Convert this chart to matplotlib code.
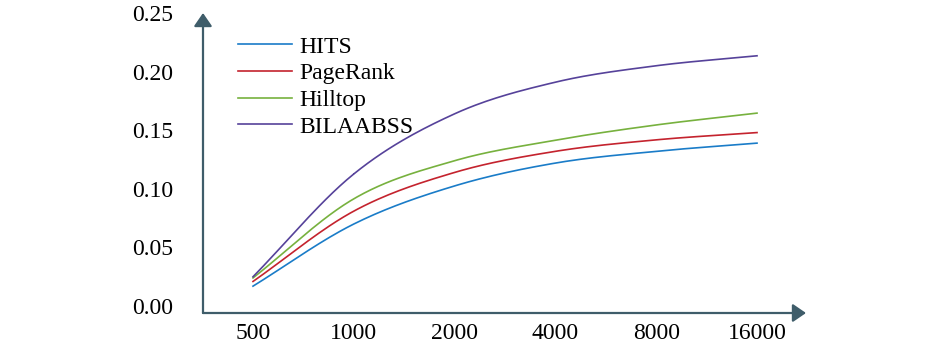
import numpy as np
import matplotlib.pyplot as plt

# datos
categorias = ['500', '1000', '2000', '4000', '8000', '16000']
hits = [0.017, 0.070, 0.1025, 0.122, 0.132, 0.139]
pagerank = [0.021, 0.081, 0.114, 0.132, 0.1418, 0.148]
hilltop = [0.024, 0.0915, 0.124, 0.1415, 0.1545, 0.1646]
bilaabss = [0.025, 0.1127, 0.164, 0.191, 0.205, 0.2135]

series = [('HITS', hits, '#1a7cc8'),
          ('PageRank', pagerank, '#c4232e'),
          ('Hilltop', hilltop, '#77b13e'),
          ('BILAABSS', bilaabss, '#56429a')]

eje_color = '#3f5d6a'


def suavizar(y, n=30):
    # curva tipo Catmull-Rom entre los puntos (solo para el trazo)
    x = np.arange(len(y), dtype=float)
    y = np.asarray(y, dtype=float)
    px = np.concatenate([[2 * x[0] - x[1]], x, [2 * x[-1] - x[-2]]])
    py = np.concatenate([[2 * y[0] - y[1]], y, [2 * y[-1] - y[-2]]])
    xs, ys = [], []
    for i in range(1, len(px) - 2):
        t = np.linspace(0, 1, n)
        for p, out in ((px, xs), (py, ys)):
            p0, p1, p2, p3 = p[i - 1], p[i], p[i + 1], p[i + 2]
            out.extend(0.5 * ((2 * p1) + (-p0 + p2) * t
                              + (2 * p0 - 5 * p1 + 4 * p2 - p3) * t ** 2
                              + (-p0 + 3 * p1 - 3 * p2 + p3) * t ** 3))
    return np.array(xs), np.array(ys)


plt.rcParams['font.family'] = ['Liberation Serif', 'DejaVu Serif']

W, H = 945, 354
fig = plt.figure(figsize=(W / 100, H / 100), dpi=100)
izq, der, abajo, arriba = 203, 806, 313, 13
ax = fig.add_axes([izq / W, (H - abajo) / H, (der - izq) / W, (abajo - arriba) / H])

for nombre, valores, color in series:
    xs, ys = suavizar(valores)
    ax.plot(xs, ys, color=color, lw=1.2, label=nombre)

ax.set_xlim(-0.496, 5.486)
ax.set_ylim(-0.0059, 0.2497)
ax.set_xticks(range(len(categorias)))
ax.set_xticklabels(categorias)
ax.set_yticks([0, 0.05, 0.10, 0.15, 0.20, 0.25])
ax.set_yticklabels(['0.00', '0.05', '0.10', '0.15', '0.20', '0.25'])
ax.tick_params(axis='both', length=0, labelsize=17)
ax.tick_params(axis='y', pad=21.5)
ax.tick_params(axis='x', pad=7.5)

for s in ax.spines.values():
    s.set_visible(False)

flecha = dict(arrowstyle='-|>,head_length=0.8,head_width=0.55', color=eje_color,
              lw=1.6, mutation_scale=10, shrinkA=0, shrinkB=0)
ax.annotate('', xy=(1, 0), xytext=(0, 0), xycoords='axes fraction', arrowprops=flecha)
ax.annotate('', xy=(0, 1), xytext=(0, 0), xycoords='axes fraction', arrowprops=flecha)

ax.legend(loc='upper left', bbox_to_anchor=(238 / W, 1 - 36 / H),
          bbox_transform=fig.transFigure, frameon=False, fontsize=17,
          handlelength=2.29, handletextpad=0.3, labelspacing=0.22,
          borderpad=0, borderaxespad=0)

fig.savefig('out.png', dpi=100)
